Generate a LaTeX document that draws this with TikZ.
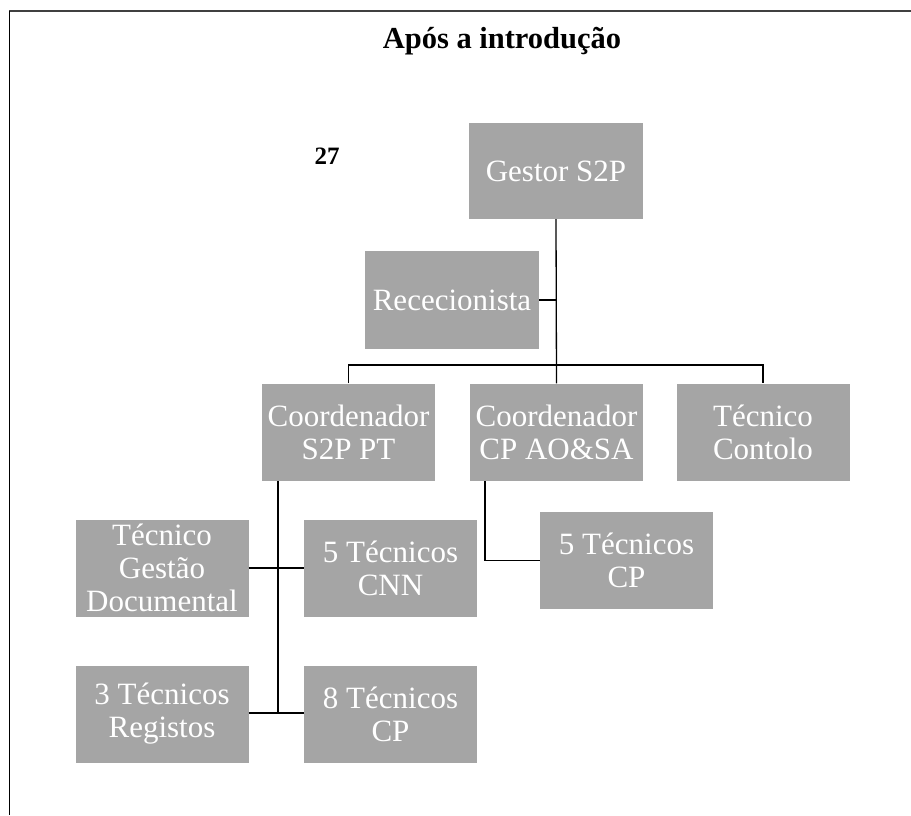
\documentclass[tikz,border=0pt]{standalone}
\usepackage{fontspec}
\setmainfont{Liberation Serif}
\definecolor{boxgray}{HTML}{A5A5A5}
\definecolor{framegray}{HTML}{404040}
\tikzset{
  orgbox/.style={fill=boxgray, text=white, minimum width=173pt, minimum height=97pt,
    inner sep=0pt, align=center, font=\fontsize{31}{33}\selectfont},
  link/.style={draw=black, line width=1.3pt},
}
\begin{document}
\begin{tikzpicture}[x=1pt, y=-1pt]
\useasboundingbox (0,0) rectangle (911,815);
% frame
\draw[framegray, line width=2pt] (9,11) -- (911,11);
\draw[black, line width=1pt] (9,11) -- (9,815);
% title and number
\node[font=\fontsize{30.5}{32}\selectfont\bfseries] (title) at (502,41) {Após a introdução};
\node[font=\fontsize{25}{28}\selectfont\bfseries] (num) at (327,156) {27};
% boxes
\node[orgbox, minimum width=174pt, minimum height=96pt] (gestor) at (556,171) {Gestor S2P};
\node[orgbox, minimum width=174pt, minimum height=98pt] (recep) at (452,300) {Rececionista};
\node[orgbox] (c1) at (348.5,432) {Coordenador\\S2P PT};
\node[orgbox] (c2) at (556.5,432) {Coordenador\\CP AO\&SA};
\node[orgbox] (c3) at (763,432) {Técnico\\Contolo};
\node[orgbox] (tgd) at (162,568) {Técnico\\Gestão\\Documental};
\node[orgbox] (cnn) at (390.5,568) {5 Técnicos\\CNN};
\node[orgbox] (tcp5) at (626.5,560.5) {5 Técnicos\\CP};
\node[orgbox] (reg) at (162,714) {3 Técnicos\\Registos};
\node[orgbox] (cp8) at (390.5,714) {8 Técnicos\\CP};
% connector coordinates
\coordinate (bus) at (556,365);
\coordinate (t1top) at (278,481);
\coordinate (t1bot) at (278,713);
\coordinate (t2top) at (485,481);
% connectors
\draw[link] (gestor.south) -- (c2.north);
\draw[link] (c1.north) |- (bus) -| (c3.north);
\draw[link] (recep.east) -- (recep.east -| gestor.south);
\draw[link] (t1top) -- (t1bot);
\draw[link] (tgd.east) -- (cnn.west);
\draw[link] (reg.east |- t1bot) -- (cp8.west |- t1bot);
\draw[link] (t2top) |- (tcp5.west);
\end{tikzpicture}
\end{document}
